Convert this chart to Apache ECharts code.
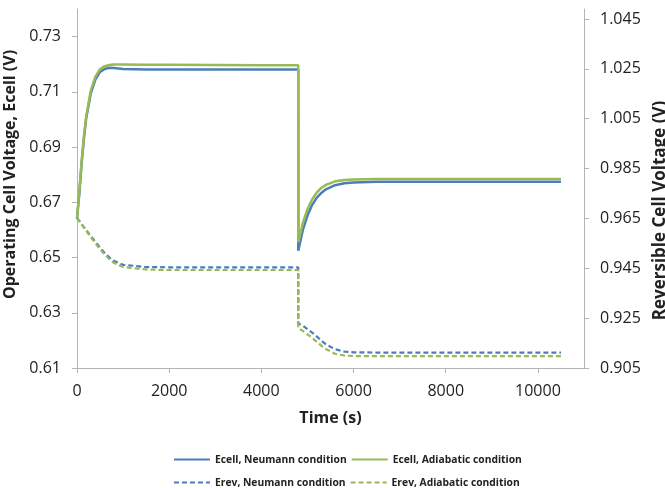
<!DOCTYPE html>
<html>
<head>
<meta charset="utf-8">
<script src="https://cdn.jsdelivr.net/npm/echarts@6/dist/echarts.min.js"></script>
<style>html,body{margin:0;padding:0;background:#fff}#c{width:665px;height:488px}</style>
</head>
<body>
<div id="c"></div>
<script>
const time = [0,50,100,150,200,300,400,500,600,700,800,1000,1500,2000,3000,4000,4800,4801,4900,5000,5100,5200,5300,5400,5600,5800,6000,6500,7000,8000,9000,10000,10500];
const ecellNeumann = [0.6642,0.673,0.684,0.693,0.7005,0.7095,0.7145,0.7172,0.7183,0.7187,0.7186,0.7183,0.7181,0.7181,0.7181,0.7181,0.7181,0.6525,0.6600,0.6652,0.6690,0.6716,0.6734,0.6747,0.6762,0.6769,0.6772,0.6774,0.6774,0.6774,0.6774,0.6774,0.6774];
const ecellAdiabatic = [0.6642,0.674,0.685,0.694,0.7012,0.7105,0.7155,0.7182,0.7193,0.7197,0.7199,0.7199,0.7198,0.7198,0.7197,0.7196,0.7196,0.6555,0.6625,0.6675,0.6710,0.6735,0.6752,0.6763,0.6776,0.6781,0.6783,0.6784,0.6784,0.6784,0.6784,0.6784,0.6784];
const erevNeumann = [0.9652,0.9640,0.9628,0.9615,0.9603,0.9579,0.9556,0.9533,0.9511,0.9494,0.9480,0.9464,0.9455,0.9454,0.9454,0.9454,0.9454,0.9229,0.9220,0.9206,0.9192,0.9177,0.9160,0.9145,0.9125,0.9116,0.9113,0.9112,0.9112,0.9112,0.9112,0.9112,0.9112];
const erevAdiabatic = [0.9652,0.9639,0.9626,0.9613,0.9600,0.9575,0.9550,0.9527,0.9505,0.9487,0.9472,0.9455,0.9445,0.9443,0.9443,0.9443,0.9443,0.9209,0.9199,0.9185,0.9171,0.9156,0.9140,0.9126,0.9107,0.9100,0.9098,0.9098,0.9098,0.9098,0.9098,0.9098,0.9098];
const xTicks = [0,2000,4000,6000,8000,10000];
const leftTicks = [0.61,0.63,0.65,0.67,0.69,0.71,0.73];
const rightTicks = [0.905,0.925,0.945,0.965,0.985,1.005,1.025,1.045];
const names = ['Ecell, Neumann condition','Ecell, Adiabatic condition','Erev, Neumann condition','Erev, Adiabatic condition'];

const BLUE = '#4a7ebb', GREEN = '#98b954';
const FONT = 'Open Sans';
const pair = arr => time.map((t, i) => [t, arr[i]]);
const axisLineStyle = {lineStyle:{color:'#b4b4b4', width:1}};
const labelStyle = {color:'#222', fontFamily:FONT, fontSize:16};
const legendText = {fontFamily:FONT, fontWeight:'bold', fontSize:10.3, color:'#222'};

const chart = echarts.init(document.getElementById('c'), null, {renderer:'canvas'});
chart.setOption({
  animation:false,
  backgroundColor:'#fff',
  grid:{left:77, right:81, top:9, bottom:120, containLabel:false, outerBoundsMode:'none'},
  legend:[
    {data:names.slice(0,2), left:168, top:449, itemWidth:36, itemHeight:14, itemGap:4,
     itemStyle:{opacity:0}, textStyle:legendText},
    {data:names.slice(2,4), left:168, top:472, itemWidth:36, itemHeight:14, itemGap:4,
     itemStyle:{opacity:0}, textStyle:legendText}
  ],
  xAxis:{type:'value', min:0, max:11000,
    name:'Time (s)', nameLocation:'middle', nameGap:42,
    nameTextStyle:{fontFamily:FONT, fontWeight:'bold', fontSize:16, color:'#222'},
    axisLine:axisLineStyle,
    axisTick:{show:true, length:5, customValues:xTicks, lineStyle:{color:'#b4b4b4'}},
    axisLabel:Object.assign({customValues:xTicks, margin:15, formatter:v=>String(v)}, labelStyle),
    splitLine:{show:false}},
  yAxis:[
    {type:'value', min:0.61, max:0.74, position:'left',
     name:'Operating Cell Voltage, Ecell (V)', nameLocation:'middle', nameGap:50,
     nameTextStyle:{fontFamily:FONT, fontWeight:'bold', fontSize:16, color:'#222', padding:[0,0,0,28]},
     axisLine:Object.assign({show:true}, axisLineStyle),
     axisTick:{show:true, length:5, customValues:leftTicks, lineStyle:{color:'#b4b4b4'}},
     axisLabel:Object.assign({customValues:leftTicks, margin:16, formatter:v=>v.toFixed(2)}, labelStyle),
     splitLine:{show:false}},
    {type:'value', min:0.905, max:1.049, position:'right',
     name:'Reversible Cell Voltage (V)', nameLocation:'middle', nameGap:66,
     nameTextStyle:{fontFamily:FONT, fontWeight:'bold', fontSize:17, color:'#222', padding:[0,44,0,0]},
     axisLine:Object.assign({show:true}, axisLineStyle),
     axisTick:{show:true, length:5, customValues:rightTicks, lineStyle:{color:'#b4b4b4'}},
     axisLabel:Object.assign({customValues:rightTicks, margin:16, formatter:v=>v.toFixed(3)}, labelStyle),
     splitLine:{show:false}}
  ],
  series:[
    {name:names[2], type:'line', yAxisIndex:1, data:pair(erevNeumann), symbol:'none',
     lineStyle:{color:BLUE, width:2.2, type:[5,3]}, itemStyle:{color:BLUE}},
    {name:names[3], type:'line', yAxisIndex:1, data:pair(erevAdiabatic), symbol:'none',
     lineStyle:{color:GREEN, width:2.2, type:[5,3]}, itemStyle:{color:GREEN}},
    {name:names[0], type:'line', yAxisIndex:0, data:pair(ecellNeumann), symbol:'none',
     lineStyle:{color:BLUE, width:2.5}, itemStyle:{color:BLUE}},
    {name:names[1], type:'line', yAxisIndex:0, data:pair(ecellAdiabatic), symbol:'none',
     lineStyle:{color:GREEN, width:2.5}, itemStyle:{color:GREEN}}
  ]
});
</script>
</body>
</html>
